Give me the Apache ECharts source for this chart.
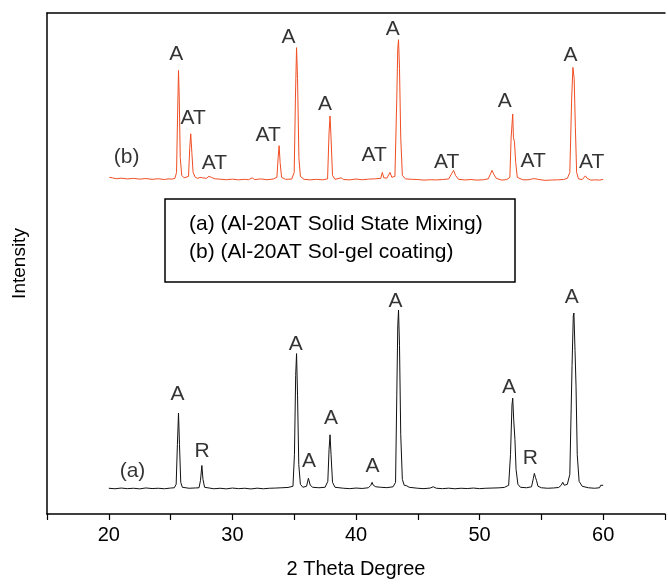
<!DOCTYPE html>
<html><head><meta charset="utf-8">
<script src="https://cdn.jsdelivr.net/npm/echarts@6/dist/echarts.min.js"></script>
<style>html,body{margin:0;padding:0;background:#fff}#c{width:668px;height:584px}</style>
</head><body><div id="c"></div>
<script>
// x-axis tick values
const xTicks = [20, 30, 40, 50, 60];
// Pattern (a) Al-20AT Solid State Mixing: [2theta, intensity]
const seriesA = [
[20.0,26],[20.5,25.5],[21.0,26.2],[21.5,25.6],[22.0,26],[22.5,25.4],[23.0,26.3],[23.5,25.7],[24.0,26],[24.5,25.5],[25.0,26.2],[25.3,26.5],
[25.45,30],[25.55,70],[25.64,102],[25.72,70],[25.82,32],[25.95,27],
[26.5,26],[27.0,26.3],[27.3,26.5],[27.42,34],[27.53,49],[27.62,35],[27.75,27],
[28.5,25.5],[29,26],[29.5,25.4],[30,26.2],[30.5,25.6],[31,26],[31.5,25.3],[32,26.1],[32.5,25.5],[33,26],[33.5,26.2],[34,26.5],[34.5,26.8],[34.9,28],
[35.02,60],[35.12,140],[35.19,162],[35.27,120],[35.37,50],[35.5,30],[35.7,27],
[36.0,28],[36.15,36],[36.3,29],[36.5,27],[37.0,26.5],[37.5,27],[37.72,33],[37.82,65],[37.9,80],[37.98,60],[38.1,32],[38.3,27],
[39,26],[39.5,25.6],[40,26.2],[40.5,25.8],[41.0,26.5],[41.2,29],[41.3,32],[41.4,29],[41.6,27.5],[42,27],[42.5,26.6],[43.0,27.5],
[43.2,32],[43.3,120],[43.38,190],[43.44,206],[43.52,170],[43.62,80],[43.75,35],[43.9,29],[44.1,28.5],[44.3,27],
[45,26],[45.5,25.6],[46,26.2],[46.25,27.5],[46.5,26],[47,25.6],[47.5,26.1],[48,25.5],[48.5,26],[49,25.7],[49.5,26.2],[50,25.6],[50.5,26],[51,26.2],[51.5,26.4],[52,26.8],
[52.35,29],[52.5,60],[52.62,110],[52.68,117],[52.76,95],[52.86,75],[52.95,45],[53.1,30],[53.3,27],[53.8,26.5],
[54.2,27.5],[54.35,36],[54.43,41],[54.52,37],[54.6,34],[54.72,28],[55,26.5],[55.5,26],[56,26.3],[56.4,26.8],[56.6,29],[56.73,32],[56.85,29],
[57.1,30],[57.3,40],[57.48,150],[57.58,200],[57.63,203],[57.72,165],[57.8,130],[57.9,60],[58.05,33],[58.3,28],[58.8,26.5],[59.3,26],[59.7,26.5],[59.8,29],[59.86,31],[59.95,30],[60.0,29]
];
// Pattern (b) Al-20AT Sol-gel coating (offset): [2theta, intensity]
const seriesB = [
[20.05,340],[20.3,339.5],[20.6,338.6],[21,339.2],[21.5,338.4],[22,339],[22.5,338.2],[23,338.8],[23.5,338],[24,338.6],[24.5,337.8],[24.8,338.5],[24.95,340.5],[25.1,338.2],[25.35,339],
[25.48,345],[25.56,400],[25.64,448],[25.7,420],[25.78,360],[25.9,342],[26.1,339.5],[26.45,341],[26.55,370],[26.63,384],[26.72,365],[26.82,345],[27.0,340],[27.2,339],[27.38,340],[27.49,341.5],[27.6,339.5],[27.9,339],[28.1,341],[28.2,342],[28.3,340],[28.6,338.5],
[29,338.2],[29.5,337.6],[30,338.2],[30.5,337.5],[31,338],[31.3,337.6],[31.6,339.5],[31.8,337.8],[32.3,338.4],[32.8,337.6],[33.3,338.3],[33.6,340],[33.7,360],[33.78,372],[33.86,355],[33.98,340],[34.3,338],[34.8,338.3],
[35.0,345],[35.1,420],[35.19,471],[35.27,440],[35.38,360],[35.5,341],[35.8,338],[36.3,337.5],[36.8,338],[37.3,337.5],[37.7,338.5],[37.82,385],[37.9,402],[37.98,380],[38.1,342],[38.3,338],[38.8,339.5],
[39,337.8],[39.5,337.5],[40,338.3],[40.5,337.6],[41,338.2],[41.5,338.5],[42.0,339],[42.13,345],[42.25,339.5],[42.5,339.2],[42.75,345],[42.9,340],[43.15,341],[43.3,420],[43.38,470],[43.44,479],[43.52,450],[43.62,380],[43.75,342],
[44,338.5],[44.5,338],[45,337.8],[45.5,337.2],[46,337.6],[46.5,337.4],[47,337.8],[47.5,338.4],[47.75,344],[47.9,347],[48.05,342],[48.3,338],[48.8,337.4],[49.3,337.8],[49.8,337.2],[50.3,337.6],[50.7,338.5],[50.9,344],[51.0,347],[51.15,343],[51.35,339],
[51.8,337.2],[52.2,337.8],[52.45,340],[52.55,380],[52.68,404],[52.74,380],[52.82,376],[52.92,355],[53.05,340],[53.5,337.5],[54.0,337.6],[54.3,338.6],[54.43,340.5],[54.55,338.5],[54.8,337.8],[55.3,337],[55.8,337.3],[56.3,337.5],[56.8,337.8],
[57.1,339],[57.3,345],[57.45,420],[57.55,451],[57.65,440],[57.75,390],[57.85,345],[58.0,338.5],[58.3,337.8],[58.45,339.5],[58.56,341.5],[58.7,339],[59,337.2],[59.4,337.5],[59.7,337.2],[59.85,338.8],[60.0,338]
];
// Peak annotations: [2theta, intensity, text]
const peakLabels = [
[25.45,464,'A'],[26.83,400,'AT'],[28.54,354,'AT'],[32.9,383,'AT'],[34.54,482,'A'],[37.5,414,'A'],[41.47,362,'AT'],[42.98,490,'A'],
[47.34,355,'AT'],[52.04,417,'A'],[54.34,356,'AT'],[57.35,463,'A'],[59.07,355,'AT'],[21.44,360,'(b)'],
[25.56,121,'A'],[27.54,63,'R'],[35.13,171,'A'],[36.19,53,'A'],[37.97,97,'A'],[41.34,48,'A'],[43.19,215,'A'],
[52.38,128,'A'],[54.1,56,'R'],[57.46,219,'A'],[21.92,43,'(a)']
];
const legendLines = ['(a) (Al-20AT Solid State Mixing)', '(b) (Al-20AT Sol-gel coating)'];

const FONT = 'Liberation Sans, Arial, sans-serif';
const chart = echarts.init(document.getElementById('c'), null, {renderer: 'canvas'});
chart.setOption({
  animation: false,
  backgroundColor: '#fff',
  grid: {left: 47, top: 13, right: 0, bottom: 65, containLabel: false},
  xAxis: [{
    type: 'value', min: 15, max: 65, interval: 5,
    name: '2 Theta Degree', nameLocation: 'middle', nameGap: 45,
    nameTextStyle: {fontFamily: FONT, fontSize: 20, color: '#000'},
    axisLine: {lineStyle: {color: '#000', width: 1.5}},
    axisTick: {show: true, length: 6, inside: false, lineStyle: {color: '#000', width: 1.2}},
    axisLabel: {fontFamily: FONT, fontSize: 20, color: '#000', margin: 11,
      formatter: v => xTicks.indexOf(v) >= 0 ? String(v) : ''},
    splitLine: {show: false}
  }, {
    type: 'value', min: 15, max: 65, position: 'top',
    axisLine: {show: true, onZero: false, lineStyle: {color: '#000', width: 1.5}},
    axisTick: {show: false}, axisLabel: {show: false}, splitLine: {show: false}
  }],
  yAxis: {
    type: 'value', min: 0, max: 506,
    name: 'Intensity', nameLocation: 'middle', nameGap: 18, nameRotate: 90,
    nameTextStyle: {fontFamily: FONT, fontSize: 19, color: '#000'},
    axisLine: {show: true, lineStyle: {color: '#000', width: 1.5}},
    axisTick: {show: false}, axisLabel: {show: false}, splitLine: {show: false}
  },
  series: [
    {type: 'line', data: seriesA, showSymbol: false, symbol: 'none',
     lineStyle: {color: '#111', width: 1}},
    {type: 'line', data: seriesB, showSymbol: false, symbol: 'none',
     lineStyle: {color: '#f04e23', width: 1}},
    {type: 'scatter', symbolSize: 0, silent: true,
     data: peakLabels.map(d => ({value: [d[0], d[1]], name: d[2]})),
     label: {show: true, position: 'inside', formatter: '{b}', fontFamily: FONT, fontSize: 21, color: '#000'}}
  ],
  graphic: [
    {type: 'rect', shape: {x: 165, y: 199, width: 350, height: 83},
     style: {fill: '#fff', stroke: '#000', lineWidth: 1.5}, z: 100},
    {type: 'text', x: 189, y: 224, z: 101,
     style: {text: legendLines[0], font: '21px ' + FONT, fill: '#000', textVerticalAlign: 'middle'}},
    {type: 'text', x: 189, y: 252, z: 101,
     style: {text: legendLines[1], font: '21px ' + FONT, fill: '#000', textVerticalAlign: 'middle'}}
  ]
});
</script></body></html>
